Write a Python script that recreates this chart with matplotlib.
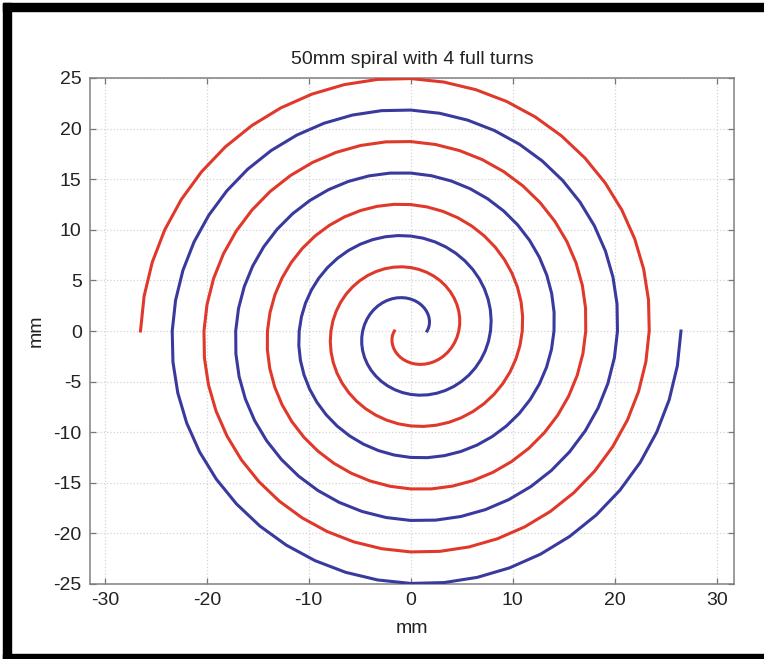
import numpy as np
import matplotlib
matplotlib.use("Agg")
import matplotlib.pyplot as plt
from matplotlib.patches import Rectangle

# Spiral geometry (mm)
turns = 4
r_inner = 1.6
r_outer = 26.5
steps_per_turn = 48

# Two interleaved arms: name, colour, starting phase (radians)
arm_names = ["arm A", "arm B"]
arm_colors = ["#E0392B", "#3A3A9E"]
arm_phases = [np.pi, 0.0]

x_ticks = [-30, -20, -10, 0, 10, 20, 30]
y_ticks = [-25, -20, -15, -10, -5, 0, 5, 10, 15, 20, 25]

plt.rcParams["font.family"] = ["Liberation Sans", "DejaVu Sans"]
plt.rcParams["axes.unicode_minus"] = False

W, H = 764, 659
fig = plt.figure(figsize=(W / 100, H / 100), dpi=100)

# black frame on the left, top and bottom edges
for (x0, y0, w, h) in [(3, 3, 8, H - 3), (3, 3, W - 3, 8), (3, H - 5, W - 3, 5)]:
    fig.patches.append(Rectangle((x0 / W, 1 - (y0 + h) / H), w / W, h / H,
                                 transform=fig.transFigure, color="black",
                                 zorder=10))

ax = fig.add_axes([90 / W, 1 - 584 / H, (734 - 90) / W, (584 - 78) / H])

theta = np.linspace(0, 2 * np.pi * turns, turns * steps_per_turn + 1)
radius = r_inner + (r_outer - r_inner) * theta / (2 * np.pi * turns)
for name, color, phase in zip(arm_names, arm_colors, arm_phases):
    ax.plot(radius * np.cos(theta + phase), radius * np.sin(theta + phase),
            color=color, lw=2.2, label=name, solid_joinstyle="round", zorder=3)

ax.set_xlim(-31.45, 31.7)
ax.set_ylim(-25, 25)
ax.set_xticks(x_ticks)
ax.set_yticks(y_ticks)
ax.grid(True, linestyle=":", color="#d4d4d4", linewidth=0.9)
ax.tick_params(direction="in", top=True, right=True, length=4, width=0.9,
               color="#777777", labelsize=14, labelcolor="#222222", pad=6)
for s in ax.spines.values():
    s.set_color("#808080")
    s.set_linewidth(1.1)

ax.set_title("50mm spiral with 4 full turns", fontsize=14, color="#222222",
             pad=10)
ax.set_xlabel("mm", fontsize=14, color="#222222", labelpad=8)
ax.set_ylabel("mm", fontsize=14, color="#222222", labelpad=6)

fig.savefig("out.png", dpi=100)
